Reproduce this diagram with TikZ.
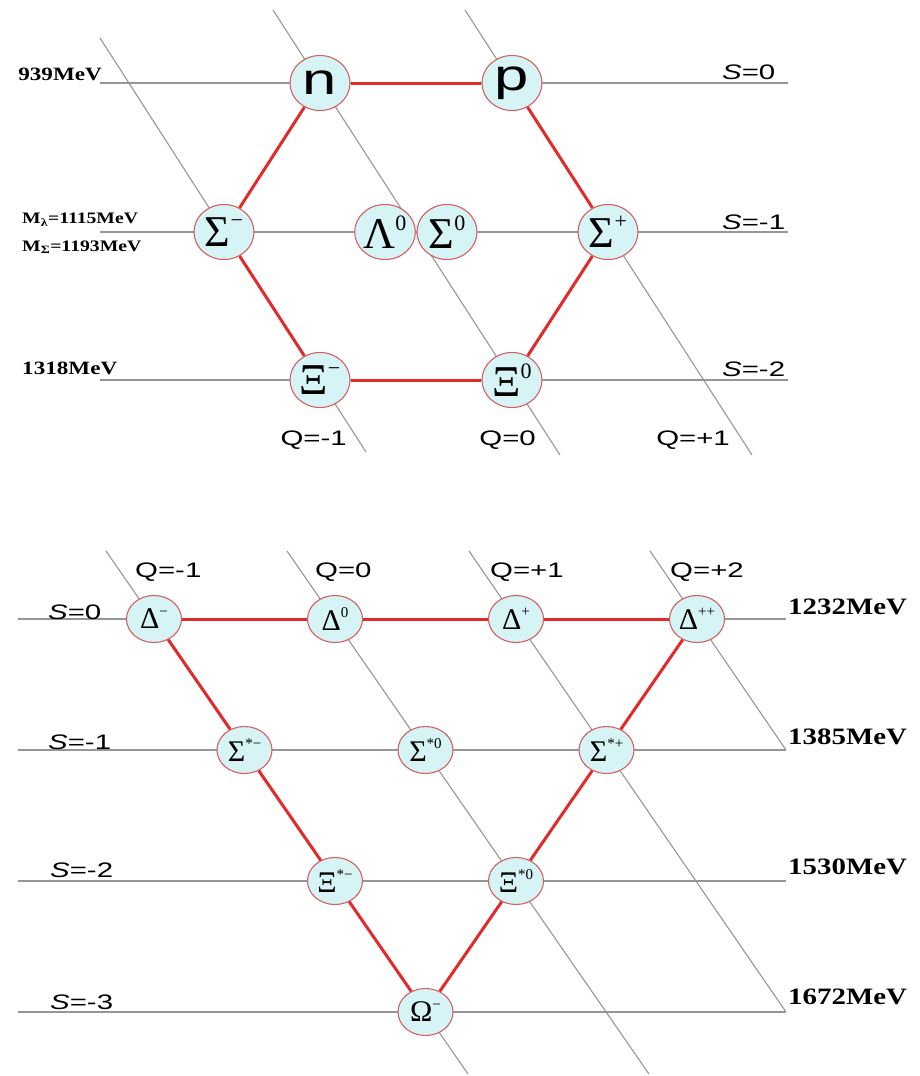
\documentclass[tikz,border=0pt]{standalone}
\usepackage{fontspec}
\setmainfont{Liberation Serif}
\newfontfamily\labelsans[FakeStretch=1.4]{Liberation Sans}
\newfontfamily\massfont[FakeStretch=1.23]{Liberation Serif}
\usepackage{graphicx}
\usepackage{xcolor}
\usepackage{tikz}
\usetikzlibrary{positioning,shapes.geometric}

\definecolor{partfill}{RGB}{214,244,246}
\definecolor{partline}{RGB}{212,96,96}
\definecolor{linkred}{RGB}{226,42,42}
\definecolor{gridgray}{RGB}{150,150,150}

\newcommand{\chg}[1]{\raisebox{0.42em}{\scalebox{0.5}{#1}}}

\begin{document}
\begin{tikzpicture}[x=1pt, y=-1pt, on grid,
  grid/.style={draw=gridgray, line width=1.1pt},
  link/.style={draw=linkred, line width=3pt},
  part/.style={ellipse, draw=partline, fill=partfill, line width=1.1pt, inner sep=0pt, minimum width=60pt, minimum height=55pt, font=\fontsize{44}{44}\selectfont},
  small/.style={part, minimum width=55pt, minimum height=47pt, font=\fontsize{30}{30}\selectfont},
  mass/.style={inner sep=0pt, font=\massfont\bfseries\fontsize{18.8}{19}\selectfont},
  masslow/.style={mass, font=\massfont\bfseries\fontsize{16}{16}\selectfont},
  massbig/.style={mass, font=\massfont\bfseries\fontsize{23.5}{24}\selectfont},
  qlab/.style={inner sep=0pt, font=\labelsans\fontsize{21}{21}\selectfont}]
\useasboundingbox (0,0) rectangle (919,1076);

% grid of the octet
\foreach \y in {83,232,380} \draw[grid] (100,\y) -- (788,\y);
\draw[grid] (100,38) -- (366,452);
\draw[grid] (273,10) -- (560,455);
\draw[grid] (465,10) -- (752,455);

% grid of the decuplet
\foreach \y in {619,750,881,1012} \draw[grid] (18,\y) -- (786,\y);
\draw[grid] (106,551) -- (468,1074);
\draw[grid] (287,551) -- (649,1074);
\draw[grid] (469,551) -- (786,1012);
\draw[grid] (650,551) -- (786,750);

% baryon octet
\node[part] (n) at (320,83) {\labelsans n};
\node[part, right=192pt of n] (p) {\labelsans p};
\node[part, below left=149pt and 96pt of n] (sigm) {Σ\chg{−}};
\node[part, below right=149pt and 96pt of p] (sigp) {Σ\chg{+}};
\node[part, below right=149pt and 65pt of n] (lam) {Λ\chg{0}};
\node[part, below left=149pt and 65pt of p] (sigz) {Σ\chg{0}};
\node[part, below=297pt of n] (xim) {Ξ\chg{−}};
\node[part, below=297pt of p] (xiz) {Ξ\chg{0}};
\draw[link] (n) -- (p);
\draw[link] (p) -- (sigp);
\draw[link] (sigp) -- (xiz);
\draw[link] (xiz) -- (xim);
\draw[link] (xim) -- (sigm);
\draw[link] (sigm) -- (n);

\node[mass, anchor=east] (m939) at (102,74) {939MeV};
\node[masslow, anchor=west] (mlam) at (22,220) {M\textsubscript{λ}=1115MeV};
\node[masslow, anchor=west] (msig) at (22,247) {M\textsubscript{Σ}=1193MeV};
\node[mass, anchor=west] (m1318) at (22,368) {1318MeV};
\node[qlab, anchor=west] (s0) at (722,72) {\textit{S}=0};
\node[qlab, anchor=west] (s1) at (722,222) {\textit{S}=-1};
\node[qlab, anchor=west] (s2) at (722,369) {\textit{S}=-2};
\node[qlab, anchor=east] (qm) at (347,440) {Q=-1};
\node[qlab, anchor=east] (qz) at (536,440) {Q=0};
\node[qlab, anchor=east] (qp) at (730,440) {Q=+1};

% baryon decuplet
\node[small] (dm) at (154,619) {Δ\chg{−}};
\node[small, right=181pt of dm] (dz) {Δ\chg{0}};
\node[small, right=181pt of dz] (dp) {Δ\chg{+}};
\node[small, right=181pt of dp] (dpp) {Δ\chg{++}};
\node[small, below right=131pt and 90.5pt of dm] (ssm) {Σ\chg{*−}};
\node[small, right=181pt of ssm] (ssz) {Σ\chg{*0}};
\node[small, right=181pt of ssz] (ssp) {Σ\chg{*+}};
\node[small, below right=131pt and 90.5pt of ssm] (xsm) {Ξ\chg{*−}};
\node[small, right=181pt of xsm] (xsz) {Ξ\chg{*0}};
\node[small, below right=131pt and 90.5pt of xsm] (om) {Ω\chg{−}};
\draw[link] (dm) -- (dz);
\draw[link] (dz) -- (dp);
\draw[link] (dp) -- (dpp);
\draw[link] (dm) -- (ssm);
\draw[link] (ssm) -- (xsm);
\draw[link] (xsm) -- (om);
\draw[link] (dpp) -- (ssp);
\draw[link] (ssp) -- (xsz);
\draw[link] (xsz) -- (om);

\node[qlab, anchor=west] (qdm) at (135,572) {Q=-1};
\node[qlab, anchor=west] (qdz) at (315,572) {Q=0};
\node[qlab, anchor=west] (qdp) at (490,572) {Q=+1};
\node[qlab, anchor=west] (qdpp) at (670,572) {Q=+2};
\node[qlab, anchor=west] (sd0) at (48,612) {\textit{S}=0};
\node[qlab, anchor=west] (sd1) at (48,742) {\textit{S}=-1};
\node[qlab, anchor=west] (sd2) at (50,870) {\textit{S}=-2};
\node[qlab, anchor=west] (sd3) at (50,1002) {\textit{S}=-3};
\node[massbig, anchor=west] (m1232) at (788,607) {1232MeV};
\node[massbig, anchor=west] (m1385) at (788,737) {1385MeV};
\node[massbig, anchor=west] (m1530) at (788,867) {1530MeV};
\node[massbig, anchor=west] (m1672) at (788,997) {1672MeV};
\end{tikzpicture}
\end{document}
